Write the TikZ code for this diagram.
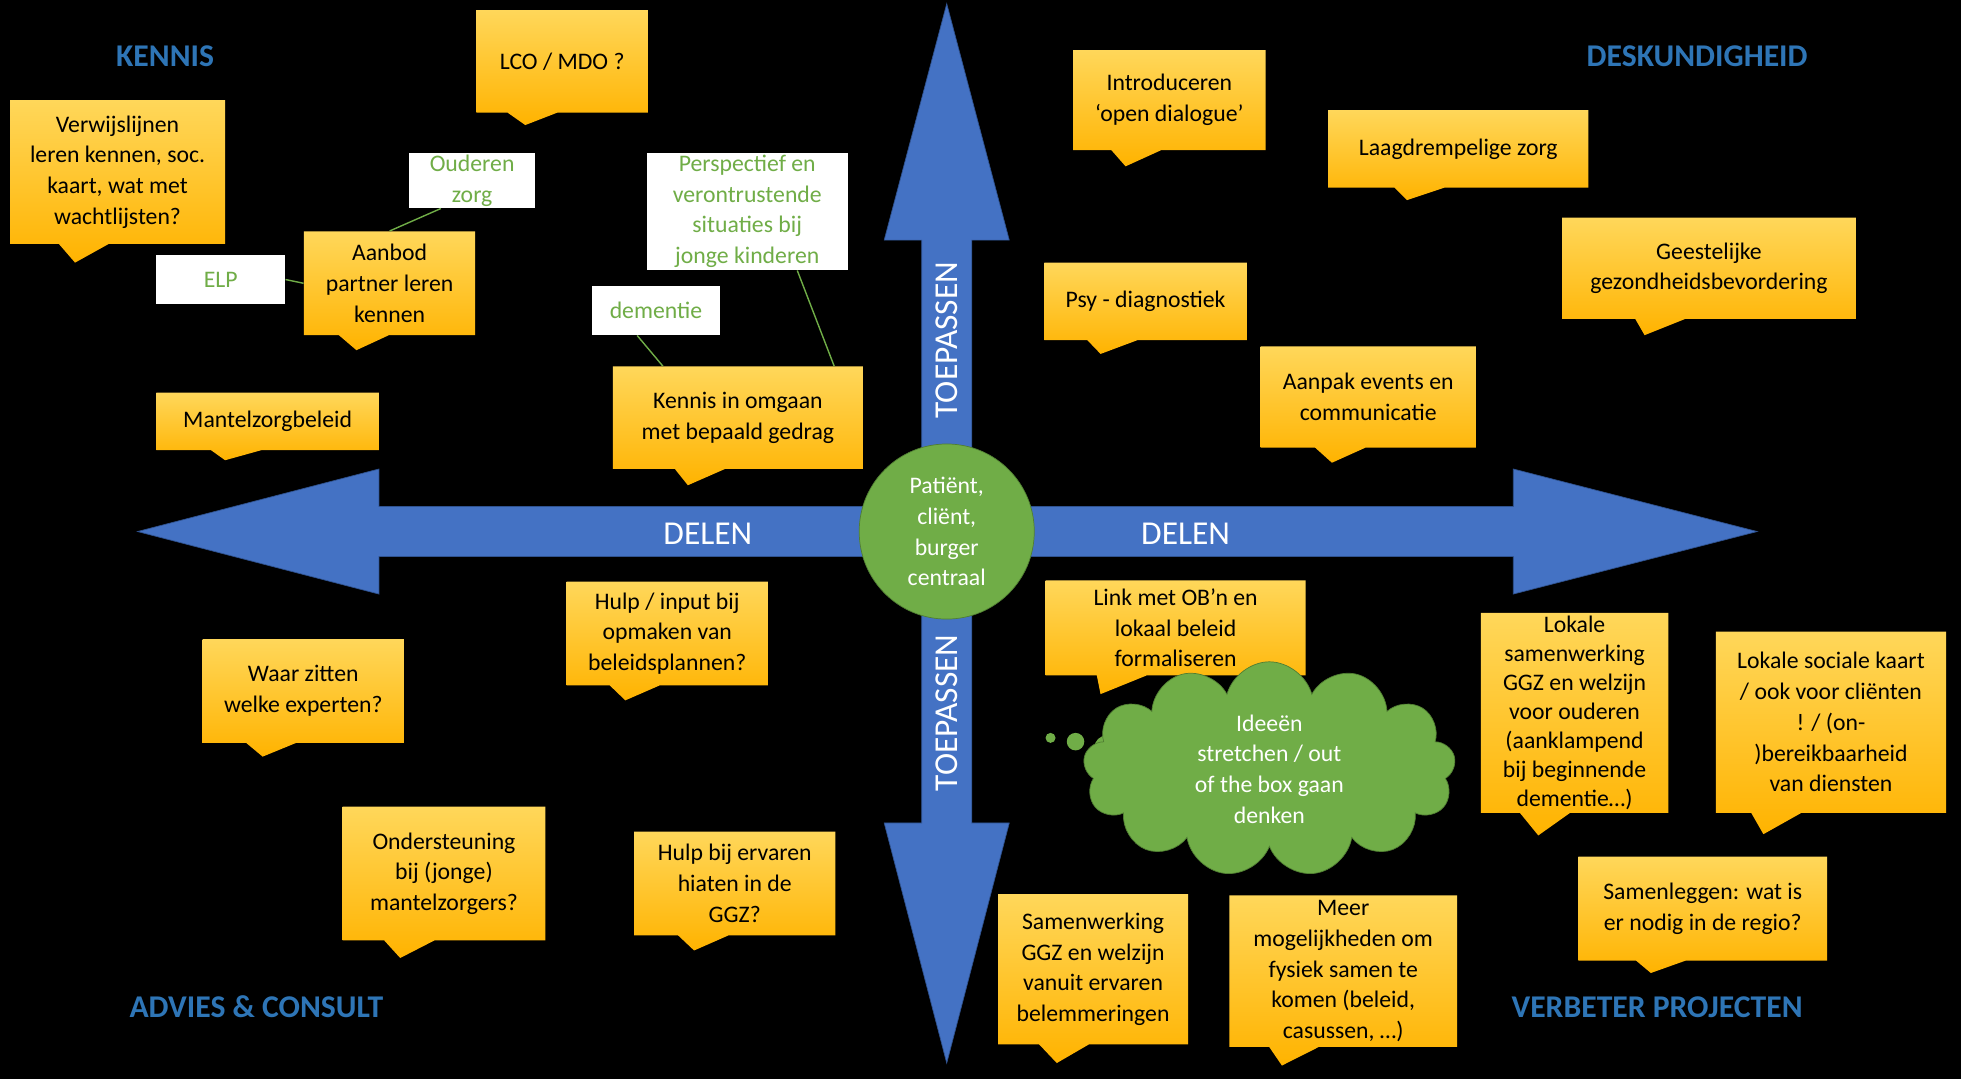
\documentclass[tikz,border=0pt]{standalone}
\usepackage{fontspec}
\setmainfont{Carlito}
\usetikzlibrary{shapes.callouts,shapes.symbols}
\newcommand\pxl[1]{#1*0.025cm}
\definecolor{arrowBlue}{HTML}{4472C4}
\definecolor{arrowLine}{HTML}{2F528F}
\definecolor{headBlue}{HTML}{2E75B6}
\definecolor{noteTop}{HTML}{FFD75A}
\definecolor{noteBot}{HTML}{FFB300}
\definecolor{hubGreen}{HTML}{70AD47}
\definecolor{hubLine}{HTML}{507E32}
\tikzset{
  note/.style={rectangle callout, draw=none, top color=noteTop, bottom color=noteBot,
    callout pointer width=\pxl{40}, inner sep=1pt, align=center,
    font=\fontsize{13.5}{17.5}\selectfont},
  tag/.style={rectangle, fill=white, text=hubGreen, inner sep=1pt, align=center,
    font=\fontsize{13.5}{17.5}\selectfont},
  link/.style={hubGreen, thick},
  corner/.style={text=headBlue, font=\fontsize{18}{20}\selectfont\bfseries},
  axis/.style={text=white, font=\fontsize{19}{21}\selectfont}
}
\begin{document}
\begin{tikzpicture}[x=0.025cm, y=-0.025cm]
\fill[black] (0,0) rectangle (1568,863);
\useasboundingbox (0,0) rectangle (1568,863);

% assen
\draw[arrowLine, fill=arrowBlue] (110,425) -- (303,375) -- (303,405) -- (1210,405) -- (1210,375)
  -- (1405,425) -- (1210,475) -- (1210,445) -- (303,445) -- (303,475) -- cycle;
\draw[arrowLine, fill=arrowBlue] (757,3) -- (807,192) -- (777,192) -- (777,658) -- (807,658)
  -- (757,850) -- (707,658) -- (737,658) -- (737,192) -- (707,192) -- cycle;
\fill[arrowBlue] (737.5,405.5) rectangle (776.5,444.5);
\node[axis] (delenL) at (566,427) {DELEN};
\node[axis] (delenR) at (948,427) {DELEN};
\node[axis, rotate=90] (toepT) at (757,272) {TOEPASSEN};
\node[axis, rotate=90] (toepB) at (757,570) {TOEPASSEN};

\node[circle, draw=hubLine, fill=hubGreen, minimum size=\pxl{140}, inner sep=0pt, text=white,
  align=center, font=\fontsize{13.5}{17.5}\selectfont] (hub) at (757,425)
  {Patiënt,\\cliënt,\\burger\\centraal};

% kwadranten
\node[corner] (kennis) at (132,45) {KENNIS};
\node[corner] (desk) at (1357,45) {DESKUNDIGHEID};
\node[corner] (advies) at (205,805) {ADVIES \& CONSULT};
\node[corner] (verbeter) at (1325,805) {VERBETER PROJECTEN};

% kennis
\node[note, minimum width=\pxl{137}, minimum height=\pxl{82}, callout absolute pointer={(420,100)}] (lco) at (449.5,49) {LCO / MDO ?};
\node[note, minimum width=\pxl{172}, minimum height=\pxl{115}, callout absolute pointer={(60,210)}] (verw) at (94,137.5) {Verwijslijnen\\leren kennen, soc.\\kaart, wat met\\wachtlijsten?};
\node[note, minimum width=\pxl{137}, minimum height=\pxl{83}, callout absolute pointer={(285,280)}] (aanbod) at (311.5,226.5) {Aanbod\\partner leren\\kennen};
\node[note, minimum width=\pxl{178}, minimum height=\pxl{46}, callout absolute pointer={(180,368)}] (mantel) at (214,337) {Mantelzorgbeleid};
\node[note, minimum width=\pxl{200}, minimum height=\pxl{82}, callout absolute pointer={(550,388)}] (gedrag) at (590,334) {Kennis in omgaan\\met bepaald gedrag};

\node[tag, minimum width=\pxl{101}, minimum height=\pxl{41}] (ouderen) at (377.5,144.5) {Ouderen\\zorg};
\node[tag, minimum width=\pxl{103}, minimum height=\pxl{39}] (elp) at (176.5,223.5) {ELP};
\node[tag, minimum width=\pxl{103}, minimum height=\pxl{39}] (dementie) at (524.5,248.5) {dementie};
\node[tag, minimum width=\pxl{161}, minimum height=\pxl{94}] (persp) at (597.5,169) {Perspectief en\\verontrustende\\situaties bij\\jonge kinderen};
\draw[link] (ouderen.south) ++(-25,0) coordinate (ouA) -- (aanbod.north);
\draw[link] (elp.east) -- (aanbod.west);
\draw[link] (dementie.south) ++(-15,0) -- ([xshift=\pxl{-60}]gedrag.north);
\draw[link] ([xshift=\pxl{40}]persp.south) -- ([xshift=\pxl{77}]gedrag.north);

% deskundigheid
\node[note, minimum width=\pxl{154}, minimum height=\pxl{80}, callout absolute pointer={(900,133)}] (intro) at (935,80) {Introduceren\\‘open dialogue’};
\node[note, minimum width=\pxl{208}, minimum height=\pxl{62}, callout absolute pointer={(1125,160)}] (laag) at (1166,119) {Laagdrempelige zorg};
\node[note, minimum width=\pxl{235}, minimum height=\pxl{81}, callout absolute pointer={(1315,268)}] (geest) at (1366.5,214.5) {Geestelijke\\gezondheidsbevordering};
\node[note, minimum width=\pxl{162}, minimum height=\pxl{62}, callout absolute pointer={(880,283)}] (psy) at (916,241) {Psy - diagnostiek};
\node[note, minimum width=\pxl{172}, minimum height=\pxl{81}, callout absolute pointer={(1065,370)}] (aanpak) at (1094,317.5) {Aanpak events en\\communicatie};

% advies & consult
\node[note, minimum width=\pxl{161}, minimum height=\pxl{83}, callout absolute pointer={(500,560)}] (hulp) at (533.5,506.5) {Hulp / input bij\\opmaken van\\beleidsplannen?};
\node[note, minimum width=\pxl{161}, minimum height=\pxl{83}, callout absolute pointer={(210,605)}] (waar) at (242.5,552.5) {Waar zitten\\welke experten?};
\node[note, minimum width=\pxl{162}, minimum height=\pxl{107}, callout absolute pointer={(320,766)}] (onder) at (355,698.5) {Ondersteuning\\bij (jonge)\\mantelzorgers?};
\node[note, minimum width=\pxl{161}, minimum height=\pxl{83}, callout absolute pointer={(555,760)}] (hiaten) at (587.5,706.5) {Hulp bij ervaren\\hiaten in de\\GGZ?};

% verbeter projecten
\node[note, minimum width=\pxl{208}, minimum height=\pxl{76}, callout absolute pointer={(880,555)}] (linkOB) at (940,502) {Link met OB’n en\\lokaal beleid\\formaliseren};
\node[note, minimum width=\pxl{150}, minimum height=\pxl{160}, callout absolute pointer={(1230,668)}, font=\fontsize{13.5}{16.5}\selectfont] (lokSam) at (1259,570) {Lokale\\samenwerking\\GGZ en welzijn\\voor ouderen\\(aanklampend\\bij beginnende\\dementie…)};
\node[note, minimum width=\pxl{184}, minimum height=\pxl{145}, callout absolute pointer={(1410,667)}] (lokSoc) at (1464,577.5) {Lokale sociale kaart\\/ ook voor cliënten\\! / (on-\\)bereikbaarheid\\van diensten};
\node[note, minimum width=\pxl{199}, minimum height=\pxl{83}, callout absolute pointer={(1320,778)}] (samenl) at (1361.5,726.5) {Samenleggen: wat is\\er nodig in de regio?};
\node[note, minimum width=\pxl{152}, minimum height=\pxl{120}, callout absolute pointer={(845,850)}] (samenw) at (874,775) {Samenwerking\\GGZ en welzijn\\vanuit ervaren\\belemmeringen};
\node[note, minimum width=\pxl{182}, minimum height=\pxl{121}, callout absolute pointer={(1025,852)}] (meer) at (1074,776.5) {Meer\\mogelijkheden om\\fysiek samen te\\komen (beleid,\\casussen, …)};

% wolk
\fill[hubGreen] (840,590) circle (4) (860,593) circle (7) (885,598) circle (10);
\node[cloud, cloud puffs=13, aspect=2.3, draw=hubLine, fill=hubGreen, text=white, align=center,
  minimum width=\pxl{250}, minimum height=\pxl{112}, inner sep=0pt,
  font=\fontsize{13.5}{17.5}\selectfont] (idee) at (1015,615)
  {Ideeën\\stretchen / out\\of the box gaan\\denken};
\end{tikzpicture}
\end{document}
